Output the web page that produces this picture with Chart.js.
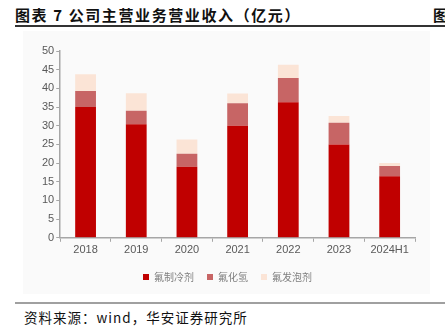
<!DOCTYPE html>
<html>
<head>
<meta charset="utf-8">
<script src="https://cdn.jsdelivr.net/npm/chart.js@4/dist/chart.umd.min.js"></script>
<style>
  html, body { margin: 0; padding: 0; background: #fff; }
  body { width: 445px; height: 330px; position: relative; overflow: hidden;
         font-family: "Noto Sans CJK SC", "Liberation Sans", sans-serif; }
  #title { position: absolute; left: 15px; top: 4px; font-size: 15px; letter-spacing: 1.6px; font-weight: bold; color: #111; white-space: nowrap; }
  #title2 { position: absolute; left: 433px; top: 4px; font-size: 15px; font-weight: bold; color: #111; }
  #topline { position: absolute; left: 15px; top: 25px; width: 430px; height: 2px; background: #333; }
  #panel { position: absolute; left: 23px; top: 31px; width: 407px; height: 263px; background: #fafafa; }
  #botline { position: absolute; left: 15px; top: 302px; width: 430px; height: 2px; background: #a0a0a0; }
  #source { position: absolute; left: 24px; top: 307px; font-size: 13.5px; letter-spacing: 1px; color: #111; white-space: nowrap; }
</style>
</head>
<body>
<div id="title">图表 7 公司主营业务营业收入（亿元）</div>
<div id="title2">图</div>
<div id="topline"></div>
<div id="panel"><canvas id="revChart" width="407" height="263"></canvas></div>
<div id="botline"></div>
<div id="source">资料来源：wind，华安证券研究所</div>
<script>
const years = ['2018', '2019', '2020', '2021', '2022', '2023', '2024H1'];
const refrigerant = [35.0, 30.4, 19.0, 30.0, 36.3, 25.0, 16.5];
const hydrogenFluoride = [4.3, 3.6, 3.5, 6.0, 6.5, 5.8, 2.7];
const foamingAgent = [4.5, 4.7, 3.8, 2.6, 3.5, 1.8, 0.8];
const yTicks = [0, 5, 10, 15, 20, 25, 30, 35, 40, 45, 50];

const ctx = document.getElementById('revChart').getContext('2d');

new Chart(ctx, {
    type: 'bar',
    data: {
        labels: years,
        datasets: [
            { label: '氟制冷剂', data: refrigerant, backgroundColor: '#c00000' },
            { label: '氟化氢', data: hydrogenFluoride, backgroundColor: '#c76565' },
            { label: '氟发泡剂', data: foamingAgent, backgroundColor: '#fbe4d6' }
        ]
    },
    options: {
        responsive: false,
        animation: false,
        layout: { padding: { left: 17, right: 15, top: 20, bottom: 2 } },
        datasets: {
            bar: { categoryPercentage: 1, barPercentage: 0.41, borderWidth: 0 }
        },
        scales: {
            x: {
                stacked: true,
                grid: { display: true, drawOnChartArea: false, offset: true, tickLength: 4, color: '#a6a6a6' },
                border: { color: '#a6a6a6', width: 1.5 },
                ticks: { color: '#595959', font: { size: 11, family: 'Liberation Sans' }, padding: 2 }
            },
            y: {
                stacked: true,
                min: 0,
                max: 50,
                afterBuildTicks: axis => { axis.ticks = yTicks.map(v => ({ value: v })); },
                grid: { display: true, drawOnChartArea: false, tickLength: 4, color: '#a6a6a6' },
                border: { color: '#a6a6a6', width: 1.5 },
                ticks: { color: '#595959', font: { size: 11, family: 'Liberation Sans' }, padding: 2 }
            }
        },
        plugins: {
            legend: {
                position: 'bottom',
                labels: {
                    boxWidth: 6,
                    boxHeight: 6,
                    padding: 13,
                    color: '#7f7f7f',
                    font: { size: 10, family: 'Noto Sans CJK SC' }
                }
            },
            tooltip: { enabled: false }
        }
    }
});
</script>
</body>
</html>
